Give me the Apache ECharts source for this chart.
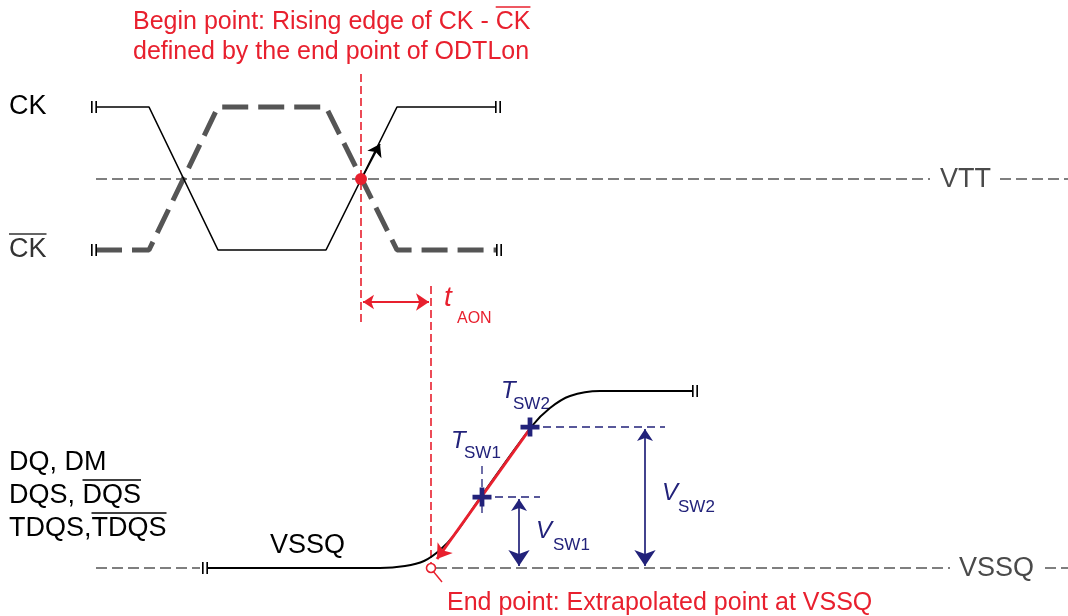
<!DOCTYPE html>
<html>
<head>
<meta charset="utf-8">
<script src="https://cdn.jsdelivr.net/npm/echarts@6/dist/echarts.min.js"></script>
<style>
  html, body { margin: 0; padding: 0; background: #fff; }
  #main { width: 1068px; height: 616px; }
</style>
</head>
<body>
<div id="main"></div>
<script>
// waveform points in diagram units (x = time, y = level, top to bottom)
var ckWave = [[96, 107], [149, 107], [218, 250], [326, 250], [397, 107], [496, 107]];
var ckbWave = [[96, 250], [149, 250], [218, 107], [326, 107], [397, 250], [496, 250]];
var vttLine = [[96, 179], [930, 179]];
var vttTail = [[1000, 179], [1068, 179]];
var dqLead = [[96, 568], [200, 568]];
var dqWave = [[207, 568], [380, 568], [405, 566], [424, 561], [440, 550], [455, 534], [480, 498], [532, 426], [550, 408], [570, 396], [600, 391], [693, 391]];
var vssqLine = [[436, 568], [950, 568]];
var vssqTail = [[1045, 568], [1068, 568]];
var breaks = [[94, 107], [498, 107], [94, 250], [499, 250], [205, 568], [695, 391]];
var beginPoint = [[361, 179]];
var endPoint = [[431, 568]];
var tsw = [[482, 497], [530, 427]];

var RED = '#e8202e', NAVY = '#22227a', GREY = '#555555';
var FONT = 'Liberation Sans, Arial, sans-serif';

var myChart = echarts.init(document.getElementById('main'));

// text width, used to place the overline bars
var ctx = document.createElement('canvas').getContext('2d');
function textW(s, size) {
    ctx.font = size + 'px ' + FONT;
    return ctx.measureText(s).width;
}

function line(data, color, width, type, z) {
    return {
        type: 'line', data: data, showSymbol: false, silent: true, z: z || 2,
        lineStyle: { color: color, width: width, type: type || 'solid', cap: 'butt' }
    };
}
function arrows(coords, color, width, sym, size, z) {
    return {
        type: 'lines', coordinateSystem: 'cartesian2d', silent: true, z: z || 3,
        symbol: sym, symbolSize: size,
        lineStyle: { color: color, width: width, opacity: 1, curveness: 0 },
        data: [{ coords: coords }]
    };
}
function txt(x, y, s, size, color, italic) {
    return {
        type: 'text', x: x, y: y, silent: true,
        style: {
            text: s, fill: color, fontSize: size, fontStyle: italic ? 'italic' : 'normal',
            fontFamily: FONT, textVerticalAlign: 'middle'
        }
    };
}
// overline over the part of s after prefix
function over(x, yTop, prefix, s, size, color) {
    var x1 = x + textW(prefix, size);
    var x2 = x + textW(s, size);
    return { type: 'line', silent: true, shape: { x1: x1, y1: yTop, x2: x2, y2: yTop }, style: { stroke: color, lineWidth: 1.6 } };
}

var l1 = 'Begin point: Rising edge of CK - CK';

var option = {
    animation: false,
    grid: { left: 0, right: 0, top: 0, bottom: 0 },
    xAxis: { type: 'value', min: 0, max: 1068, show: false },
    yAxis: { type: 'value', min: 0, max: 616, inverse: true, show: false },
    series: [
        line(vttLine, GREY, 1.3, [11, 5]),
        line(vttTail, GREY, 1.3, [11, 5]),
        line(vssqLine, GREY, 1.3, [11, 5]),
        line(vssqTail, GREY, 1.3, [11, 5]),
        line(dqLead, GREY, 1.3, [11, 5]),
        line(ckbWave, GREY, 5, [26, 10]),
        line(ckWave, '#000', 1.6),
        // begin / end reference lines
        line([[361, 74], [361, 322]], RED, 1.6, [8, 4]),
        line([[431, 286], [431, 572]], RED, 1.6, [8, 4]),
        // DQ waveform
        {
            type: 'line', data: dqWave, showSymbol: false, silent: true, smooth: 0.35, z: 2,
            lineStyle: { color: '#000', width: 2 }
        },
        // extrapolation line
        arrows([[532, 426], [437, 559]], RED, 3, ['none', 'arrow'], [10, 14], 6),
        arrows([[433, 571], [442, 582]], RED, 1.4, ['none', 'none'], 1),
        // rising edge arrow
        arrows([[362, 178], [380, 144]], '#000', 1.6, ['none', 'arrow'], [8, 12]),
        // tAON
        arrows([[363, 302], [429, 302]], RED, 2.2, ['arrow', 'arrow'], [11, 13]),
        // VSW helpers
        line([[530, 427], [665, 427]], NAVY, 1.3, [8, 5]),
        line([[482, 497], [540, 497]], NAVY, 1.3, [8, 5]),
        line([[482, 466], [482, 518]], NAVY, 1.3, [8, 5]),
        arrows([[519, 499], [519, 566]], NAVY, 1.7, ['arrow', 'arrow'], [12, 16]),
        arrows([[645, 429], [645, 566]], NAVY, 1.7, ['arrow', 'arrow'], [12, 16]),
        {
            type: 'scatter', data: tsw, silent: true, symbolSize: 19, z: 7,
            symbol: 'path://M6,0h4v6h6v4h-6v6h-4v-6h-6v-4h6z',
            itemStyle: { color: NAVY, opacity: 1 }
        },
        {
            type: 'scatter', data: beginPoint, silent: true, symbolSize: 12, z: 7,
            itemStyle: { color: RED, opacity: 1 }
        },
        {
            type: 'scatter', data: endPoint, silent: true, symbolSize: 9, z: 7,
            itemStyle: { color: '#fff', borderColor: RED, borderWidth: 1.6, opacity: 1 }
        },
        {
            type: 'scatter', data: breaks, silent: true, symbolSize: [6, 12],
            symbol: 'path://M0,0h1.5v12h-1.5zM4,0h1.5v12h-1.5z',
            itemStyle: { color: '#000', opacity: 1 }
        }
    ],
    graphic: [
        txt(133, 22, l1, 25, RED),
        over(133, 7, 'Begin point: Rising edge of CK - ', l1, 25, RED),
        txt(133, 52, 'defined by the end point of ODTLon', 25, RED),
        txt(9, 107, 'CK', 27, '#000'),
        txt(9, 250, 'CK', 27, '#333'),
        over(9, 234, '', 'CK', 27, '#333'),
        txt(940, 180, 'VTT', 27, '#4a4a4a'),
        txt(444, 298, 't', 28, RED, true),
        txt(457, 319, 'AON', 16, RED),
        txt(9, 463, 'DQ, DM', 27, '#000'),
        txt(9, 496, 'DQS, DQS', 27, '#000'),
        over(9, 480, 'DQS, ', 'DQS, DQS', 27, '#000'),
        txt(9, 529, 'TDQS,TDQS', 27, '#000'),
        over(9, 513, 'TDQS,', 'TDQS,TDQS', 27, '#000'),
        txt(270, 546, 'VSSQ', 27, '#000'),
        txt(959, 569, 'VSSQ', 27, '#4a4a4a'),
        txt(501, 391, 'T', 24, NAVY, true),
        txt(513, 404, 'SW2', 17, NAVY),
        txt(451, 441, 'T', 24, NAVY, true),
        txt(464, 453, 'SW1', 17, NAVY),
        txt(536, 531, 'V', 24, NAVY, true),
        txt(553, 545, 'SW1', 17, NAVY),
        txt(662, 493, 'V', 24, NAVY, true),
        txt(678, 507, 'SW2', 17, NAVY),
        txt(447, 603, 'End point: Extrapolated point at VSSQ', 25, RED)
    ]
};

myChart.setOption(option);
</script>
</body>
</html>
